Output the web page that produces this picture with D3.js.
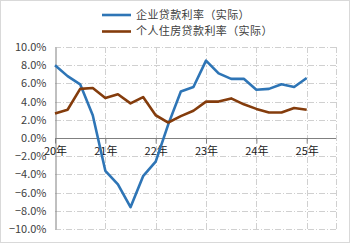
<!DOCTYPE html>
<html><head><meta charset="utf-8">
<script src="https://cdn.jsdelivr.net/npm/d3@7"></script>
<style>body{margin:0;background:#fff}svg{display:block}text{font-family:"Noto Sans CJK SC","Noto Sans",sans-serif}</style>
</head><body><svg id="c" width="351" height="244"></svg>
<script>
const quarters = ["20Q1","20Q2","20Q3","20Q4","21Q1","21Q2","21Q3","21Q4","22Q1","22Q2","22Q3","22Q4","23Q1","23Q2","23Q3","23Q4","24Q1","24Q2","24Q3","24Q4","25Q1"];
const corpRate = [8.0,6.8,5.9,2.5,-3.6,-5.1,-7.6,-4.2,-2.6,1.5,5.1,5.6,8.5,7.1,6.5,6.5,5.3,5.4,5.9,5.6,6.6];
const mortRate = [2.7,3.1,5.4,5.5,4.4,4.8,3.8,4.5,2.5,1.7,2.4,3.0,4.0,4.0,4.35,3.7,3.2,2.8,2.8,3.3,3.1];
const yearTicks = [0,4,8,12,16,20];
const yearLabels = ["20年","21年","22年","23年","24年","25年"];
const yTicks = [10,8,6,4,2,0,-2,-4,-6,-8,-10];
const seriesNames = ["企业贷款利率（实际）","个人住房贷款利率（实际）"];
const colors = ["#2e75b6","#843c0c"];

const svg = d3.select("#c");
svg.append("rect").attr("x",0.5).attr("y",0.5).attr("width",349).attr("height",242).attr("fill","#fff").attr("stroke","#d9d9d9");

const x = d3.scaleLinear().domain([0,20]).range([55,306.7]);
const xRight = 336;
const y = d3.scaleLinear().domain([-10,10]).range([229,47]);
const gridStyle = s => s.attr("stroke","#d0d0d0").attr("stroke-width",1).attr("stroke-dasharray","6,2,1,2").attr("fill","none");

svg.append("g").selectAll("line").data(yTicks.filter(d=>d!==0)).join("line")
  .attr("x1",55).attr("x2",xRight).attr("y1",d=>Math.round(y(d))+0.5).attr("y2",d=>Math.round(y(d))+0.5).call(gridStyle);
svg.append("g").selectAll("line").data(yearTicks.slice(1).map(d=>x(d)).concat([xRight])).join("line")
  .attr("x1",d=>Math.round(d)+0.5).attr("x2",d=>Math.round(d)+0.5).attr("y1",47).attr("y2",229).call(gridStyle);

const yAxis = d3.axisLeft(y).tickValues(yTicks).tickSize(0).tickPadding(9).tickFormat(d=>d3.format(".1f")(d).replace("-","−")+"%");
const gy = svg.append("g").attr("transform","translate(55.5,0)").call(yAxis);
gy.select(".domain").attr("stroke","#808080");
gy.selectAll("text").attr("font-size",11).attr("fill","#404040");

const gx = svg.append("g").attr("transform",`translate(0,${Math.round(y(0))+0.5})`)
  .call(d3.axisBottom(x).tickValues(yearTicks).tickSize(5).tickSizeOuter(0).tickPadding(4).tickFormat((d,i)=>yearLabels[i]));
gx.select(".domain").attr("d",`M55,0H${xRight}`).attr("stroke","#808080");
gx.selectAll(".tick line").attr("stroke","#808080");
gx.selectAll("text").attr("font-size",11).attr("fill","#202020");

const line = d3.line().x((d,i)=>x(i)).y(d=>y(d));
[corpRate,mortRate].forEach((s,k)=>{
  svg.append("path").datum(s).attr("d",line).attr("fill","none").attr("stroke",colors[k]).attr("stroke-width",2.6).attr("stroke-linejoin","round");
});

seriesNames.forEach((n,k)=>{
  const ly = 15 + k*16.5;
  svg.append("line").attr("x1",102).attr("x2",131).attr("y1",ly).attr("y2",ly).attr("stroke",colors[k]).attr("stroke-width",2.6);
  svg.append("text").attr("x",136).attr("y",ly).attr("dy","0.36em").attr("font-size",11).attr("letter-spacing",0.4).attr("fill","#404040").text(n);
});
</script></body></html>
